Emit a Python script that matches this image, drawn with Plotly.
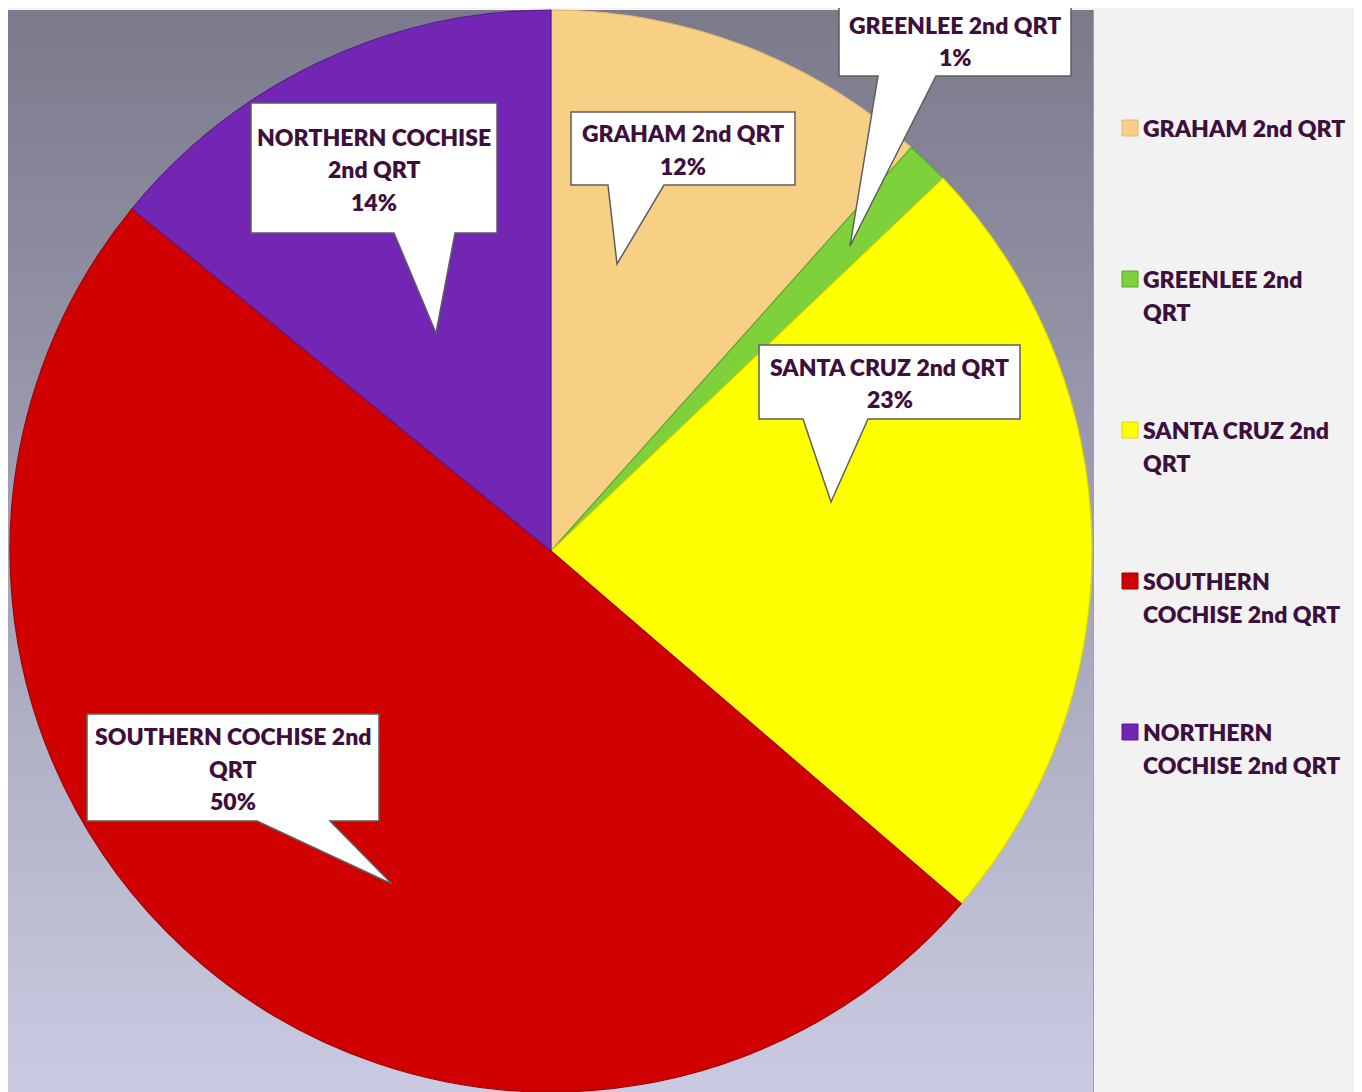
import textwrap
import plotly.graph_objects as go

# ---------------- data ----------------
labels = ["GRAHAM 2nd QRT", "GREENLEE 2nd QRT", "SANTA CRUZ 2nd QRT",
          "SOUTHERN COCHISE 2nd QRT", "NORTHERN COCHISE 2nd QRT"]
values = [11.6, 1.3, 23.4, 49.6, 14.1]
colors = ["#f7d086", "#7fd13b", "#ffff00", "#d00000", "#7326b4"]
edge_colors = ["#e0b870", "#5aa828", "#d8d800", "#a00000", "#5a1a90"]

# page offset (browser body margin) -> helper axes cover reference pixels OFF..W
OFF = 8
W, H = 1362, 1092
FW, FH = W - OFF, H - OFF
TEXT_COLOR = "#3d0f3d"
FONT = "Lato"
FS = 23
WEIGHT = 800
LINE_H = 32.5


def px(xp):
    return (xp - OFF) / FW


def py(yp):
    return 1 - (yp - OFF) / FH


total = sum(values)
pcts = [round(v / total * 100) for v in values]

fig = go.Figure()

# plot-area background with vertical gradient (pixel-space helper axes)
PA = dict(x0=7, x1=1093, y0=10, y1=1092)
fig.add_trace(go.Scatter(
    x=[PA["x0"], PA["x1"], PA["x1"], PA["x0"], PA["x0"]],
    y=[PA["y0"], PA["y0"], PA["y1"], PA["y1"], PA["y0"]],
    mode="lines", fill="toself", line=dict(width=0),
    fillgradient=dict(type="vertical",
                      colorscale=[[0, "#cacae2"], [1, "#7b7a8b"]],
                      start=PA["y1"], stop=PA["y0"]),
    hoverinfo="skip", showlegend=False))

# pie: centre (551, 551), radius 541 in reference pixels
CX, CY, R = 551, 551, 541
fig.add_trace(go.Pie(
    labels=labels, values=values, sort=False, direction="clockwise", rotation=0,
    marker=dict(colors=colors, line=dict(color=edge_colors, width=1.2)),
    textinfo="none", hoverinfo="label+percent", showlegend=False,
    domain=dict(x=[px(CX - R), px(CX + R)], y=[max(0, py(CY + R)), py(CY - R)])))

shapes = []
# frame bevel of plot area
shapes.append(dict(type="line", xref="x", yref="y", x0=1092, x1=1092, y0=10, y1=1092,
                   line=dict(color="#4b4a5a", width=3), layer="below"))
shapes.append(dict(type="line", xref="x", yref="y", x0=8, x1=8, y0=10, y1=1092,
                   line=dict(color="#666577", width=2), layer="below"))
shapes.append(dict(type="line", xref="x", yref="y", x0=8, x1=1092, y0=11, y1=11,
                   line=dict(color="#9c9bb0", width=2), layer="below"))

# callouts: box (x0, y0, x1, y1), tail base x range on bottom edge, tip, wrap width
callouts = [
    dict(box=(571, 112, 795, 185), base=(608, 664), tip=(617, 264), wrap=20),
    dict(box=(839, 4, 1071, 76), base=(878, 936), tip=(850, 246), wrap=20),
    dict(box=(759, 345, 1020, 419), base=(803, 868), tip=(831, 502), wrap=20),
    dict(box=(87, 714, 379, 821), base=(257, 330), tip=(392, 884), wrap=20),
    dict(box=(251, 103, 497, 233), base=(394, 455), tip=(436, 333), wrap=16),
]


def text_lines(lines, x, y_first, xanchor):
    out = []
    for k, ln in enumerate(lines):
        out.append(dict(xref="x", yref="y", x=x, y=y_first + k * LINE_H, text=ln,
                        showarrow=False, xanchor=xanchor, yanchor="middle",
                        font=dict(family=FONT, size=FS, color=TEXT_COLOR, weight=WEIGHT)))
    return out


annotations = []
for lab, p, c in zip(labels, pcts, callouts):
    x0, y0, x1, y1 = c["box"]
    bx0, bx1 = c["base"]
    tx, ty = c["tip"]
    path = (f"M{x0},{y0} L{x1},{y0} L{x1},{y1} L{bx1},{y1} L{tx},{ty} "
            f"L{bx0},{y1} L{x0},{y1} Z")
    shapes.append(dict(type="path", xref="x", yref="y", path=path,
                       fillcolor="white", line=dict(color="#5e5e5e", width=1.5),
                       layer="above"))
    lines = textwrap.wrap(lab, c["wrap"]) + [f"{p}%"]
    yc = (y0 + y1) / 2 + 1
    annotations += text_lines(lines, (x0 + x1) / 2, yc - (len(lines) - 1) / 2 * LINE_H, "center")

# legend (manual)
LEG_X, LEG_Y0, LEG_GAP, SW = 1122, 128, 151, 16
for i, (lab, col, ec) in enumerate(zip(labels, colors, edge_colors)):
    yc = LEG_Y0 + i * LEG_GAP
    shapes.append(dict(type="rect", xref="x", yref="y", x0=LEG_X, x1=LEG_X + SW,
                       y0=yc - SW / 2, y1=yc + SW / 2, fillcolor=col,
                       line=dict(color=ec, width=1), layer="above"))
    annotations += text_lines(textwrap.wrap(lab, 15), LEG_X + SW + 3, yc, "left")

fig.update_layout(
    width=FW, height=FH, autosize=False,
    margin=dict(l=0, r=0, t=0, b=0, pad=0),
    paper_bgcolor="#f2f2f2", plot_bgcolor="rgba(0,0,0,0)",
    xaxis=dict(range=[OFF, W], visible=False, fixedrange=True, domain=[0, 1]),
    yaxis=dict(range=[H, OFF], visible=False, fixedrange=True, domain=[0, 1]),
    shapes=shapes, annotations=annotations, showlegend=False)

fig.write_html("out.html")
